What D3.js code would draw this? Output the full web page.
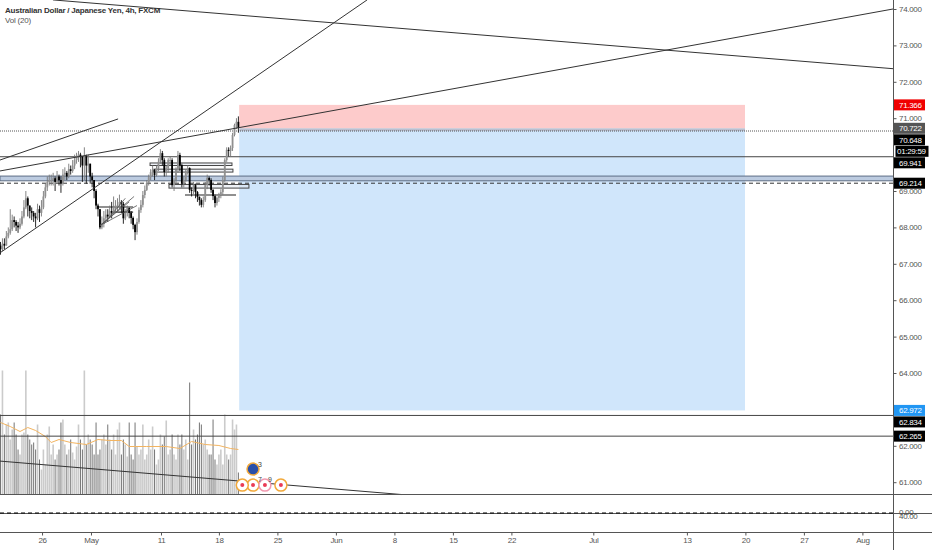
<!DOCTYPE html>
<html><head><meta charset="utf-8">
<script src="https://cdn.jsdelivr.net/npm/d3@7/dist/d3.min.js"></script>
<style>html,body{margin:0;padding:0;background:#fff}svg{display:block;font-family:"Liberation Sans",Arial,sans-serif}</style>
</head><body><svg id="c" width="932" height="550"></svg>
<script>
const closes=[67.4,67.55,67.5,67.75,67.85,67.95,68.2,68.15,68.05,68.0,68.1,
68.3,68.55,68.8,68.6,68.45,68.4,68.3,68.25,68.5,68.4,
68.55,68.85,69.1,69.25,69.3,69.3,69.35,69.25,69.4,69.3,
69.2,69.45,69.5,69.4,69.6,69.55,69.7,69.85,69.95,70.0,
69.95,69.7,69.95,69.7,69.75,69.4,69.3,69.0,68.6,68.5,
68.0,68.1,68.25,68.35,68.3,68.45,68.4,68.55,68.6,68.6,
68.7,68.65,68.25,68.4,68.53,68.4,68.26,68.07,67.87,68.15,
68.48,68.62,68.89,69.03,69.22,69.38,69.52,69.58,69.44,69.63,
69.8,70.04,69.85,69.52,69.63,69.85,69.85,69.16,69.3,69.58,
69.99,69.71,69.2,69.3,69.52,69.63,69.03,69.0,69.16,68.97,
68.84,68.75,68.62,68.75,69.16,69.36,69.3,69.03,68.86,68.67,
68.81,68.89,68.97,69.3,69.85,70.13,70.1,70.18,70.54,70.81,70.9,70.73];
const firstOpen=67.5;
const highs=[67.6,67.7,67.7,67.9,68.0,68.5,68.35,68.3,68.2,68.15,68.25,
68.45,68.75,69.0,68.85,68.6,68.55,68.45,68.4,68.65,68.6,
68.75,69.0,69.2,69.4,69.45,69.45,69.5,69.4,69.55,69.45,
69.4,69.6,69.65,69.55,69.75,69.7,69.85,70.0,70.05,70.1,
70.05,69.95,70.2,70.0,70.0,69.75,69.5,69.3,69.05,68.65,
68.5,68.3,68.45,68.5,68.5,68.6,68.7,68.85,68.75,68.8,
68.9,68.75,68.7,68.5,68.6,68.55,68.45,68.3,68.1,68.25,
68.55,68.75,69.0,69.15,69.3,69.45,69.6,69.7,69.6,69.7,
69.9,70.15,70.1,69.9,69.7,69.9,69.95,69.9,69.35,69.65,
70.1,70.05,69.75,69.4,69.6,69.7,69.65,69.1,69.25,69.2,
69.0,68.85,68.8,68.85,69.25,69.45,69.4,69.35,69.05,68.9,
68.85,68.95,69.05,69.4,69.9,70.2,70.2,70.25,70.6,70.85,71.0,71.05];
const lows=[67.25,67.35,67.4,67.5,67.7,67.8,67.9,68.0,67.9,67.85,67.95,
68.05,68.25,68.5,68.3,68.25,68.2,68.15,68.0,68.2,68.15,
68.3,68.5,68.8,69.0,69.15,69.15,69.15,69.0,69.2,69.15,
68.95,69.15,69.3,69.3,69.35,69.45,69.5,69.6,69.75,69.8,
69.65,69.25,69.3,69.2,69.5,69.2,69.1,68.8,68.5,68.3,
67.95,67.95,68.0,68.15,68.15,68.25,68.25,68.35,68.4,68.4,
68.5,68.4,68.1,68.2,68.3,68.25,68.1,67.95,67.65,67.8,
68.1,68.4,68.55,68.8,69.0,69.15,69.3,69.4,69.3,69.4,
69.55,69.75,69.7,69.4,69.4,69.5,69.7,69.1,69.0,69.2,
69.5,69.55,69.1,69.1,69.25,69.45,68.95,68.85,68.9,68.8,
68.7,68.6,68.55,68.55,68.7,69.05,69.15,68.95,68.75,68.55,
68.6,68.7,68.8,68.9,69.25,69.8,69.95,69.95,70.1,70.5,70.7,70.6];
const volumes=[80,124,60,70,72,55,65,72,60,45,40,60,62,124,60,55,50,52,45,70,35,
25,45,30,60,68,40,50,35,40,45,72,75,50,40,45,55,42,35,48,70,55,45,124,50,60,55,50,40,72,40,
45,55,60,50,70,55,45,60,40,65,72,40,55,50,38,72,40,35,72,48,40,45,70,35,40,55,45,68,45,30,
35,60,50,58,74,40,45,60,40,35,60,50,60,45,55,35,112,50,65,55,60,72,70,50,55,45,40,40,75,35,
30,40,45,30,80,40,35,40,75,65,70,22];
const maBars=[0,5,10,14,18,23,26,30,36,44,50,56,62,66,75,85,92,98,105,112,118,122];
const maValues=[72,68,63,67,64,58,52,55,52,50,55,54,54,48,48,48,46,53,50,49,46,45];
const priceTicks=[61,62,64,65,66,67,68,69,71,72,73,74];
const tickBars=[21.3,46.4,82.3,112,142,172,202,232,262,304,352,382,412,442];
const tickLabels=["26","May","11","18","25","Jun","8","15","22","Jul","13","20","27","Aug"];
const titleText="Australian Dollar / Japanese Yen, 4h, FXCM";
const volText="Vol (20)";
const stopPrice=71.366, entryPrice=70.722, markPrice=70.648, targetPrice=62.972;
const positionBars=[122.4,381.8];
const tagValues=[71.366,70.722,70.648,69.941,69.214,62.972,62.834,62.265];
const countdown="01:29:59";
const fullLevels=[69.941,62.834,62.265];
const dashedLevel=69.214, dottedLevel=70.648;
const bandPrices=[69.41,69.28];
const boxBars=[[76.7,118.7,69.77,69.7],[78.7,119.2,69.6,69.52],[86.4,127.4,69.18,69.08]];
const blackLevels=[[94.6,120.8,68.89],[49.5,68,68.56],[58,68,68.42]];
const trendBars=[[-0.3,69.55,457.7,74.0],[-0.3,67.3,188,74.25],[-0.3,69.85,60.3,70.98],[-0.3,61.58,205.9,60.66],[26.9,74.25,457.7,72.36]];
const fanBars=[[51,68.05,68.5,68.85],[51,68.05,66,68.7],[53,68.1,64,68.8],[51,68.05,70,68.6]];
const eventBars=[124,135.6,143.8,129.5];
const eventLabels=["7","9"];

const W=932,H=550,axisX=893.5,fs=8,ls="-0.3px";
const svg=d3.select("#c");
const x=d3.scaleLinear().domain([0,480]).range([0.5,0.5+480*1.95]);
const y=d3.scaleLinear().domain([61,74]).range([482.2,9]);
const v=d3.scaleLinear().domain([0,124]).range([494.5,370.5]);
const defs=svg.append("defs");
defs.append("clipPath").attr("id","plot").append("rect").attr("width",axisX).attr("height",533);
const g=svg.append("g").attr("clip-path","url(#plot)");
const px1=x(positionBars[0]),px2=x(positionBars[1]);
g.append("rect").attr("x",px1).attr("width",px2-px1).attr("y",y(stopPrice)).attr("height",y(entryPrice)-y(stopPrice)).attr("fill","#fdcbcb");
g.append("rect").attr("x",px1).attr("width",px2-px1).attr("y",y(markPrice)).attr("height",y(targetPrice)-y(markPrice)).attr("fill","#d0e6fb");
g.append("rect").attr("x",px1).attr("width",px2-px1).attr("y",y(entryPrice)).attr("height",y(markPrice)-y(entryPrice)).attr("fill","#b9bfd0");
const dir=closes.map((c,i)=>c>=(i?closes[i-1]:firstOpen));
const order=volumes.map((d,i)=>i).sort((a,b)=>(dir[b]?1:0)-(dir[a]?1:0));
g.selectAll(".vol").data(order).join("rect").attr("x",i=>x(i)-(dir[i]?0.8:0.5)).attr("width",i=>dir[i]?1.6:1)
 .attr("y",i=>v(volumes[i])).attr("height",i=>v(0)-v(volumes[i])).attr("fill",i=>dir[i]?"#cbcbcb":"#757575");
g.append("path").datum(maBars.map((b,i)=>[b,maValues[i]])).attr("fill","none").attr("stroke","#f2b461").attr("stroke-width",1)
 .attr("d",d3.line().x(d=>x(d[0])).y(d=>v(d[1])));
g.append("rect").attr("x",0).attr("width",axisX).attr("y",y(bandPrices[0])).attr("height",y(bandPrices[1])-y(bandPrices[0])).attr("fill","#bccbe0").attr("stroke","#5d6c84").attr("stroke-width",1);
g.selectAll(".lv").data(fullLevels).join("line").attr("x1",0).attr("x2",axisX).attr("y1",d=>y(d)).attr("y2",d=>y(d)).attr("stroke","#444").attr("stroke-width",1);
g.append("line").attr("x1",0).attr("x2",axisX).attr("y1",y(dashedLevel)).attr("y2",y(dashedLevel)).attr("stroke","#333").attr("stroke-dasharray","4 3");
g.append("line").attr("x1",0).attr("x2",axisX).attr("y1",y(dottedLevel)).attr("y2",y(dottedLevel)).attr("stroke","#555").attr("stroke-dasharray","1 1");
g.selectAll(".box").data(boxBars).join("rect").attr("x",d=>x(d[0])).attr("width",d=>x(d[1])-x(d[0])).attr("y",d=>y(d[2])).attr("height",d=>y(d[3])-y(d[2]))
 .attr("fill","#dfe6f0").attr("fill-opacity",.5).attr("stroke","#444").attr("stroke-width",1);
g.selectAll(".bl").data(blackLevels).join("line").attr("x1",d=>x(d[0])).attr("x2",d=>x(d[1])).attr("y1",d=>y(d[2])).attr("y2",d=>y(d[2])).attr("stroke","#222").attr("stroke-width",1.2);
g.selectAll(".w").data(closes).join("line").attr("x1",(d,i)=>x(i)).attr("x2",(d,i)=>x(i)).attr("y1",(d,i)=>y(highs[i])).attr("y2",(d,i)=>y(lows[i]))
 .attr("stroke",(d,i)=>dir[i]?"#777":"#111").attr("stroke-width",.9);
g.selectAll(".b").data(closes).join("rect").attr("x",(d,i)=>x(i)-0.9).attr("width",1.8)
 .attr("y",(d,i)=>y(Math.max(d,i?closes[i-1]:firstOpen))).attr("height",(d,i)=>Math.max(1,Math.abs(y(d)-y(i?closes[i-1]:firstOpen))))
 .attr("fill",(d,i)=>dir[i]?"#909090":"#000");
g.selectAll(".t").data(trendBars).join("line").attr("x1",d=>x(d[0])).attr("y1",d=>y(d[1])).attr("x2",d=>x(d[2])).attr("y2",d=>y(d[3])).attr("stroke","#333").attr("stroke-width",1);
g.selectAll(".f").data(fanBars).join("line").attr("x1",d=>x(d[0])).attr("y1",d=>y(d[1])).attr("x2",d=>x(d[2])).attr("y2",d=>y(d[3])).attr("stroke","#555").attr("stroke-width",.8);
const full=[494.5,513.5,532.5];
svg.selectAll(".p").data(full).join("line").attr("x1",0).attr("x2",W).attr("y1",d=>d).attr("y2",d=>d).attr("stroke","#555").attr("stroke-width",1);
svg.append("line").attr("x1",0).attr("x2",axisX).attr("y1",513).attr("y2",513).attr("stroke","#000").attr("stroke-dasharray","4 3").attr("stroke-width",1);
const evY=y(60.92),evG=svg.append("g");
const ring=(b,yy,stroke,fill)=>evG.append("circle").attr("cx",x(b)).attr("cy",yy).attr("r",6).attr("fill",fill).attr("stroke",stroke).attr("stroke-width",1.5);
const dot=b=>evG.append("circle").attr("cx",x(b)).attr("cy",evY).attr("r",2).attr("fill","#ea3b55");
ring(eventBars[3],evY,"#f2a93b","#fff");dot(eventBars[3]);
ring(eventBars[0],evY,"#f2a93b","#fff");dot(eventBars[0]);
ring(eventBars[1],evY,"#f19ab0","#fff");dot(eventBars[1]);
ring(eventBars[2],evY,"#f2a93b","#fff");dot(eventBars[2]);
ring(eventBars[3],y(61.36),"#f2a93b","#2a4fa8");
evG.append("text").attr("x",x(eventBars[3])+5).attr("y",y(61.36)-2).attr("font-size",7).attr("fill","#444").text("3");
eventLabels.forEach((t,i)=>evG.append("text").attr("x",x(eventBars[i?1:3])+(i?3:5)).attr("y",evY-3).attr("font-size",7).attr("fill","#444").text(t));
const ya=d3.axisRight(y).tickValues(priceTicks).tickFormat(d3.format(".3f")).tickSize(3).tickPadding(2.5);
const yG=svg.append("g").attr("transform",`translate(${axisX},0)`).call(ya);
yG.select(".domain").remove();
yG.selectAll("line").attr("stroke","#555");
yG.selectAll("text").attr("font-size",fs).attr("letter-spacing",ls).attr("fill","#555");
svg.append("line").attr("x1",axisX).attr("x2",axisX).attr("y1",0).attr("y2",H).attr("stroke","#555");
[[0.00,512],[40.00,516]].forEach(d=>svg.append("text").attr("x",899).attr("y",d[1]+3).attr("font-size",fs).attr("letter-spacing",ls).attr("fill","#555").text(d[0].toFixed(2)));
const xa=d3.axisBottom(x).tickValues(tickBars).tickFormat((d,i)=>tickLabels[i]).tickSize(3).tickPadding(2);
const xG=svg.append("g").attr("transform","translate(0,532.5)").call(xa);
xG.select(".domain").remove();
xG.selectAll("line").attr("stroke","#555");
xG.selectAll("text").attr("font-size",fs).attr("letter-spacing",ls).attr("fill","#555").attr("font-family",'"Liberation Sans",Arial,sans-serif');
let last=-99;
const tagFill={71.366:"#f00000",70.722:"#555",62.972:"#2196f3"};
const drawTag=(txt,cy,fill,w)=>{
 svg.append("rect").attr("x",axisX+.5).attr("y",cy-5.5).attr("width",w).attr("height",11).attr("fill",fill);
 svg.append("text").attr("x",899).attr("y",cy+2.9).attr("font-size",fs).attr("letter-spacing",ls).attr("fill","#fff").text(txt);
};
tagValues.forEach(val=>{
 const cy=Math.max(y(val),last+11.5); last=cy;
 drawTag(val.toFixed(3),cy,tagFill[val]||"#000",31);
 if(val===markPrice){const c=last+11.5;last=c;
  svg.append("rect").attr("x",axisX+2).attr("y",c-5.5).attr("width",33).attr("height",11).attr("fill","#000");
  svg.append("text").attr("x",897).attr("y",c+2.9).attr("font-size",fs).attr("letter-spacing",ls).attr("fill","#fff").text(countdown);}
});
svg.append("text").attr("x",5).attr("y",13).attr("font-size",8).attr("letter-spacing","-0.22px").attr("font-weight",700).attr("fill","#333").text(titleText);
svg.append("text").attr("x",5).attr("y",23).attr("font-size",8).attr("letter-spacing","-0.2px").attr("fill","#555").text(volText);
</script></body></html>
